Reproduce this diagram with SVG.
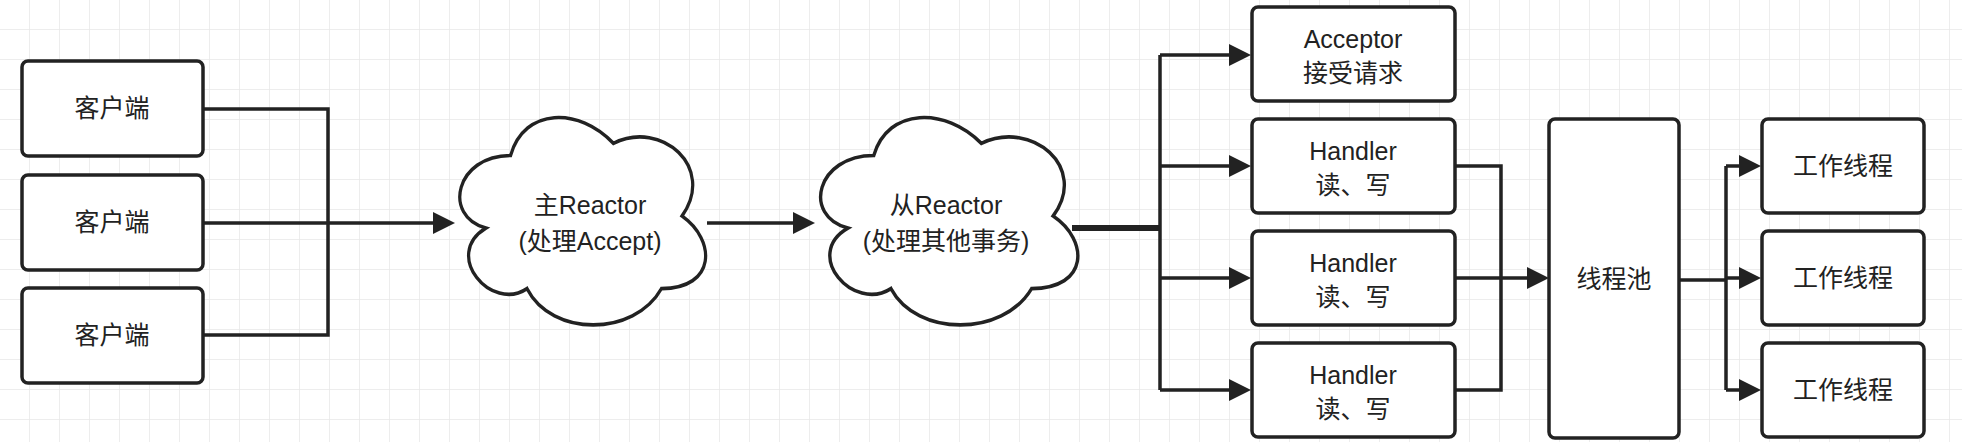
<svg xmlns="http://www.w3.org/2000/svg" width="1962" height="442" viewBox="0 0 1962 442">
<style>
.box{fill:#fff;stroke:#222;stroke-width:3.5}
.t{font-family:"Liberation Sans","Noto Sans CJK SC",sans-serif;font-size:25px;fill:#222;text-anchor:middle}
</style>
<defs>
<pattern id="g" width="30" height="30" patternUnits="userSpaceOnUse"><path d="M30 0V30H0" fill="none" stroke="#e8e8e8" stroke-width="1.5"/></pattern>
<path id="cloud" d="M63.5,50 C12.7,50 0,100 40.6,110 C0,132 45.7,180 78.7,160 C101.6,200 177.8,200 203.2,160 C254,160 254,120 222.25,100 C254,60 203.2,20 158.75,40 C127,10 76.2,10 63.5,50Z"/>
</defs>
<rect width="1962" height="442" fill="#fff"/>
<rect width="1962" height="442" fill="url(#g)"/>
<g id="connectors" fill="none" stroke="#222" stroke-width="3.5">
<path d="M203 109H328V335H203M203 223H440"/>
<path d="M455 223l-22 -11v22z" fill="#222" stroke="none"/>
<path d="M707 223H798"/>
<path d="M815 223l-22 -11v22z" fill="#222" stroke="none"/>
<path d="M1072 228H1160" stroke-width="6"/>
<path d="M1160 55V390M1160 55H1234M1160 166H1234M1160 278H1234M1160 390H1234"/>
<g fill="#222" stroke="none"><path d="M1251 55l-22 -11v22zM1251 166l-22 -11v22zM1251 278l-22 -11v22zM1251 390l-22 -11v22z"/></g>
<path d="M1455 166H1501V390H1455M1455 278H1532"/>
<path d="M1549 278l-22 -11v22z" fill="#222" stroke="none"/>
<path d="M1679 280H1726M1726 166V390M1726 166H1744M1726 278H1744M1726 390H1744"/>
<g fill="#222" stroke="none"><path d="M1761 166l-22 -11v22zM1761 278l-22 -11v22zM1761 390l-22 -11v22z"/></g>
</g>
<g id="client1"><rect class="box" x="22" y="61" width="181" height="95" rx="6"/><text class="t" x="112" y="117">客户端</text></g>
<g id="client2"><rect class="box" x="22" y="175" width="181" height="95" rx="6"/><text class="t" x="112" y="231">客户端</text></g>
<g id="client3"><rect class="box" x="22" y="288" width="181" height="95" rx="6"/><text class="t" x="112" y="344">客户端</text></g>
<g id="mainReactor"><use href="#cloud" class="box" transform="translate(442,95) scale(1.08,1.21)" style="stroke-width:3"/><text class="t" x="590" y="214">主Reactor</text><text class="t" x="590" y="250">(处理Accept)</text></g>
<g id="subReactor"><use href="#cloud" class="box" transform="translate(802,95) scale(1.13,1.21)" style="stroke-width:3"/><text class="t" x="946" y="214">从Reactor</text><text class="t" x="946" y="250">(处理其他事务)</text></g>
<g id="acceptor"><rect class="box" x="1252" y="7" width="203" height="94" rx="6"/><text class="t" x="1353" y="48">Acceptor</text><text class="t" x="1353" y="82">接受请求</text></g>
<g id="handler1"><rect class="box" x="1252" y="119" width="203" height="94" rx="6"/><text class="t" x="1353" y="160">Handler</text><text class="t" x="1353" y="194">读、写</text></g>
<g id="handler2"><rect class="box" x="1252" y="231" width="203" height="94" rx="6"/><text class="t" x="1353" y="272">Handler</text><text class="t" x="1353" y="306">读、写</text></g>
<g id="handler3"><rect class="box" x="1252" y="343" width="203" height="94" rx="6"/><text class="t" x="1353" y="384">Handler</text><text class="t" x="1353" y="418">读、写</text></g>
<g id="pool"><rect class="box" x="1549" y="119" width="130" height="319" rx="6"/><text class="t" x="1614" y="288">线程池</text></g>
<g id="worker1"><rect class="box" x="1762" y="119" width="162" height="94" rx="6"/><text class="t" x="1843" y="175">工作线程</text></g>
<g id="worker2"><rect class="box" x="1762" y="231" width="162" height="94" rx="6"/><text class="t" x="1843" y="287">工作线程</text></g>
<g id="worker3"><rect class="box" x="1762" y="343" width="162" height="94" rx="6"/><text class="t" x="1843" y="399">工作线程</text></g>
</svg>
